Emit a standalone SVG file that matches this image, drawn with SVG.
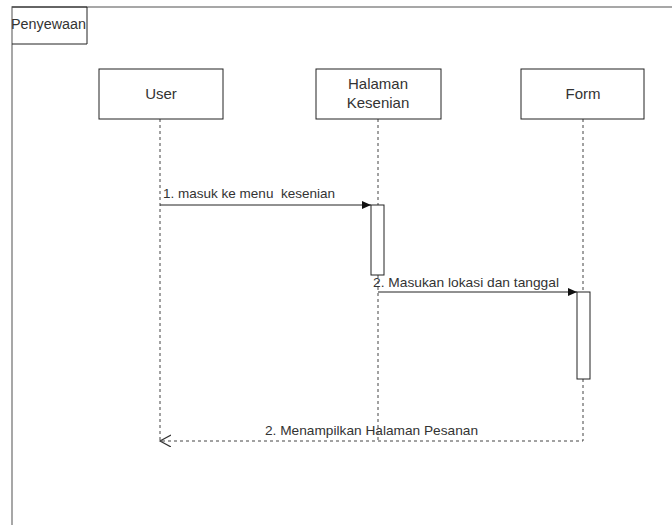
<svg xmlns="http://www.w3.org/2000/svg" width="672" height="525" viewBox="0 0 672 525">
  <style>
    .frame { fill: none; stroke: #8a8a8a; stroke-width: 1.5; }
    .box { fill: #ffffff; stroke: #222222; stroke-width: 1; }
    .life { fill: none; stroke: #444444; stroke-width: 1; stroke-dasharray: 3 3; }
    .msg { fill: none; stroke: #222222; stroke-width: 1; }
    .ret { fill: none; stroke: #444444; stroke-width: 1; stroke-dasharray: 3 3; }
    .label { font-family: "Liberation Sans", Arial, sans-serif; font-size: 13px; fill: #333333; white-space: pre; }
    .title { font-family: "Liberation Sans", Arial, sans-serif; font-size: 15px; fill: #333333; text-anchor: middle; }
  </style>
  <defs>
    <marker id="solidHead" markerWidth="10" markerHeight="10" refX="9" refY="4" orient="auto" markerUnits="userSpaceOnUse">
      <path d="M0,0 L9,4 L0,8 Z" fill="#111111"/>
    </marker>
    <marker id="openHead" markerWidth="14" markerHeight="14" refX="11" refY="6" orient="auto" markerUnits="userSpaceOnUse">
      <path d="M0,0 L11,6 L0,12" fill="none" stroke="#333333" stroke-width="1.2"/>
    </marker>
  </defs>

  <rect width="672" height="525" fill="#ffffff"/>

  <!-- interaction frame -->
  <g id="frame">
    <path class="frame" d="M672,7 L12,7 L12,525"/>
    <path d="M12,7 L87,7 L87,44 L12,44" fill="none" stroke="#222222" stroke-width="1"/>
    <text class="label" x="11" y="29" style="font-size:14px" textLength="75" lengthAdjust="spacingAndGlyphs">Penyewaan</text>
  </g>

  <!-- lifelines and messages -->
  <g id="connectors">
    <line class="life" x1="160" y1="119" x2="160" y2="441"/>
    <line class="life" x1="378" y1="119" x2="378" y2="441"/>
    <line class="life" x1="583" y1="119" x2="583" y2="292"/>
    <line class="msg" x1="160" y1="205" x2="371" y2="205" marker-end="url(#solidHead)"/>
    <line class="msg" x1="378" y1="292" x2="577" y2="292" marker-end="url(#solidHead)"/>
    <path class="ret" d="M583,379 L583,441 L160,441" marker-end="url(#openHead)"/>
    <text class="label" x="163" y="198" textLength="172" lengthAdjust="spacingAndGlyphs">1. masuk ke menu  kesenian</text>
    <text class="label" x="373" y="287" textLength="186" lengthAdjust="spacingAndGlyphs">2. Masukan lokasi dan tanggal</text>
    <text class="label" x="265" y="435" textLength="213" lengthAdjust="spacingAndGlyphs">2. Menampilkan Halaman Pesanan</text>
  </g>

  <g id="user">
    <rect class="box" x="99" y="69" width="124" height="50"/>
    <text class="title" x="161" y="99">User</text>
  </g>

  <g id="halaman-kesenian">
    <rect class="box" x="316" y="69" width="125" height="50"/>
    <text class="title" x="378" y="89">Halaman</text>
    <text class="title" x="378" y="108">Kesenian</text>
    <rect class="box" x="371" y="205" width="13" height="70"/>
  </g>

  <g id="form">
    <rect class="box" x="521" y="69" width="123" height="50"/>
    <text class="title" x="583" y="99">Form</text>
    <rect class="box" x="577" y="292" width="13" height="87"/>
  </g>
</svg>
